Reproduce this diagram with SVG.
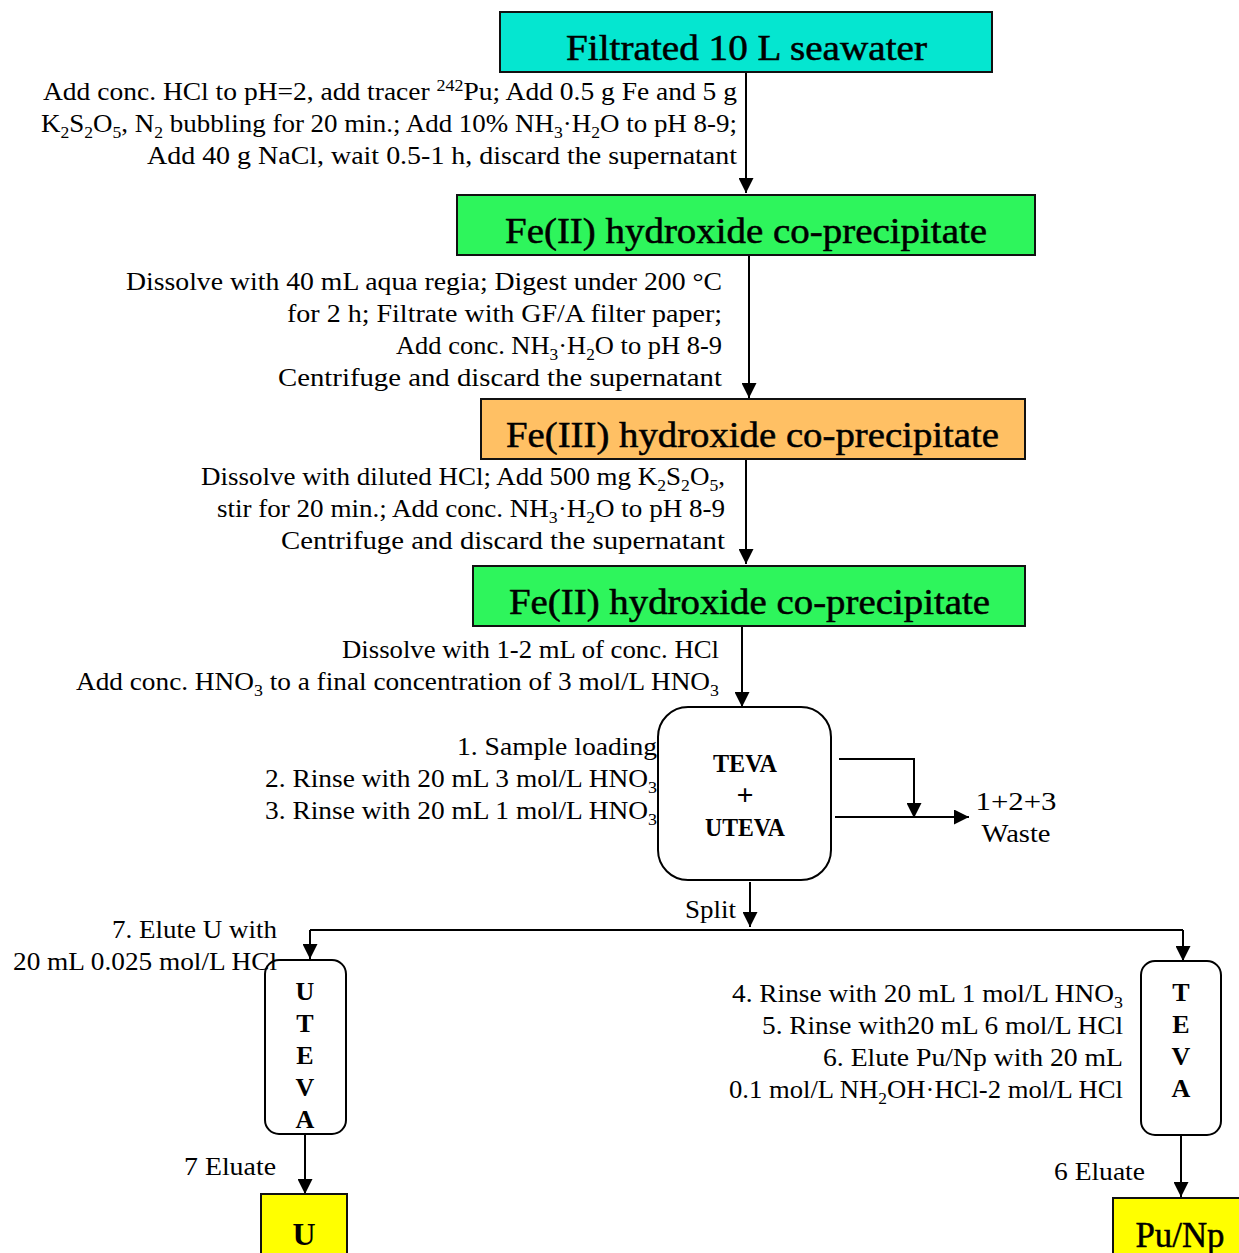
<svg xmlns="http://www.w3.org/2000/svg" width="1239" height="1253" viewBox="0 0 1239 1253">
<defs>
<style>
text{font-family:"Liberation Serif","Times New Roman",serif;font-size:26px;fill:#000}
.h{font-size:35px;stroke:#000;stroke-width:0.5}
.b{font-weight:bold;font-size:25px}
.s{font-size:17px}
.box{stroke:#111;stroke-width:2}
.col{fill:#fff;stroke:#000;stroke-width:2}
.conn path{stroke:#000;stroke-width:2;fill:none}
.arr{marker-end:url(#ah)}
</style>
<marker id="ah" markerWidth="15" markerHeight="15" refX="15" refY="7.5" orient="auto" markerUnits="userSpaceOnUse">
<path d="M0,0 L15,7.5 L0,15 z" fill="#000"/>
</marker>
</defs>
<rect width="1239" height="1253" fill="#fff"/>

<g class="conn" id="connectors">
<path class="arr" d="M746,72 V193"/>
<path class="arr" d="M749,255 V398"/>
<path class="arr" d="M746,459 V564"/>
<path class="arr" d="M742,626 V707"/>
<path class="arr" d="M839,759 H914 V818"/>
<path class="arr" d="M835,817 H969"/>
<path class="arr" d="M750,882 V927"/>
<path d="M310,930 H1183"/>
<path class="arr" d="M310,930 V959"/>
<path class="arr" d="M1183,930 V961"/>
<path class="arr" d="M305,1134 V1194"/>
<path class="arr" d="M1181,1135 V1197"/>
</g>

<g id="seawater">
<rect class="box" x="500" y="12" width="492" height="60" fill="#05E6D0"/>
<text class="h" x="746.5" y="60" text-anchor="middle" textLength="361" lengthAdjust="spacingAndGlyphs">Filtrated 10 L seawater</text>
</g>
<g id="step1-text">
<text x="737" y="100" text-anchor="end" textLength="694" lengthAdjust="spacingAndGlyphs">Add conc. HCl to pH=2, add tracer <tspan class="s" dy="-9">242</tspan><tspan dy="9">Pu; Add 0.5 g Fe and 5 g</tspan></text>
<text x="737" y="132" text-anchor="end" textLength="696" lengthAdjust="spacingAndGlyphs">K<tspan class="s" dy="6">2</tspan><tspan dy="-6">S</tspan><tspan class="s" dy="6">2</tspan><tspan dy="-6">O</tspan><tspan class="s" dy="6">5</tspan><tspan dy="-6">, N</tspan><tspan class="s" dy="6">2</tspan><tspan dy="-6"> bubbling for 20 min.; Add 10% NH</tspan><tspan class="s" dy="6">3</tspan><tspan dy="-6">·H</tspan><tspan class="s" dy="6">2</tspan><tspan dy="-6">O to pH 8-9;</tspan></text>
<text x="737" y="164" text-anchor="end" textLength="590" lengthAdjust="spacingAndGlyphs">Add 40 g NaCl, wait 0.5-1 h, discard the supernatant</text>
</g>

<g id="fe2-a">
<rect class="box" x="457" y="195" width="578" height="60" fill="#2EF55C"/>
<text class="h" x="746" y="243" text-anchor="middle" textLength="482" lengthAdjust="spacingAndGlyphs">Fe(II) hydroxide co-precipitate</text>
</g>
<g id="step2-text">
<text x="722" y="290" text-anchor="end" textLength="596" lengthAdjust="spacingAndGlyphs">Dissolve with 40 mL aqua regia; Digest under 200 °C</text>
<text x="722" y="322" text-anchor="end" textLength="435" lengthAdjust="spacingAndGlyphs">for 2 h; Filtrate with GF/A filter paper;</text>
<text x="722" y="354" text-anchor="end" textLength="326" lengthAdjust="spacingAndGlyphs">Add conc. NH<tspan class="s" dy="6">3</tspan><tspan dy="-6">·H</tspan><tspan class="s" dy="6">2</tspan><tspan dy="-6">O to pH 8-9</tspan></text>
<text x="722" y="386" text-anchor="end" textLength="444" lengthAdjust="spacingAndGlyphs">Centrifuge and discard the supernatant</text>
</g>

<g id="fe3">
<rect class="box" x="481" y="399" width="544" height="60" fill="#FFC064"/>
<text class="h" x="752.5" y="447" text-anchor="middle" textLength="493" lengthAdjust="spacingAndGlyphs">Fe(III) hydroxide co-precipitate</text>
</g>
<g id="step3-text">
<text x="725" y="485" text-anchor="end" textLength="524" lengthAdjust="spacingAndGlyphs">Dissolve with diluted HCl; Add 500 mg K<tspan class="s" dy="6">2</tspan><tspan dy="-6">S</tspan><tspan class="s" dy="6">2</tspan><tspan dy="-6">O</tspan><tspan class="s" dy="6">5</tspan><tspan dy="-6">,</tspan></text>
<text x="725" y="517" text-anchor="end" textLength="508" lengthAdjust="spacingAndGlyphs">stir for 20 min.; Add conc. NH<tspan class="s" dy="6">3</tspan><tspan dy="-6">·H</tspan><tspan class="s" dy="6">2</tspan><tspan dy="-6">O to pH 8-9</tspan></text>
<text x="725" y="549" text-anchor="end" textLength="444" lengthAdjust="spacingAndGlyphs">Centrifuge and discard the supernatant</text>
</g>

<g id="fe2-b">
<rect class="box" x="473" y="566" width="552" height="60" fill="#2EF55C"/>
<text class="h" x="749.5" y="614" text-anchor="middle" textLength="481" lengthAdjust="spacingAndGlyphs">Fe(II) hydroxide co-precipitate</text>
</g>
<g id="step4-text">
<text x="719" y="658" text-anchor="end" textLength="377" lengthAdjust="spacingAndGlyphs">Dissolve with 1-2 mL of conc. HCl</text>
<text x="719" y="690" text-anchor="end" textLength="643" lengthAdjust="spacingAndGlyphs">Add conc. HNO<tspan class="s" dy="6">3</tspan><tspan dy="-6"> to a final concentration of 3 mol/L HNO</tspan><tspan class="s" dy="6">3</tspan></text>
</g>

<g id="teva-uteva">
<rect class="col" x="658" y="707" width="173" height="173" rx="30"/>
<text class="b" x="745" y="772" text-anchor="middle" textLength="64" lengthAdjust="spacingAndGlyphs">TEVA</text>
<text class="b" x="745" y="805" text-anchor="middle" style="font-size:30px">+</text>
<text class="b" x="745" y="836" text-anchor="middle" textLength="80" lengthAdjust="spacingAndGlyphs">UTEVA</text>
</g>
<g id="step5-text">
<text x="657" y="755" text-anchor="end" textLength="200" lengthAdjust="spacingAndGlyphs">1. Sample loading</text>
<text x="657" y="787" text-anchor="end" textLength="392" lengthAdjust="spacingAndGlyphs">2. Rinse with 20 mL 3 mol/L HNO<tspan class="s" dy="6">3</tspan></text>
<text x="657" y="819" text-anchor="end" textLength="392" lengthAdjust="spacingAndGlyphs">3. Rinse with 20 mL 1 mol/L HNO<tspan class="s" dy="6">3</tspan></text>
</g>

<g id="waste">
<text x="1016" y="810" text-anchor="middle" textLength="81" lengthAdjust="spacingAndGlyphs">1+2+3</text>
<text x="1016" y="842" text-anchor="middle" textLength="69" lengthAdjust="spacingAndGlyphs">Waste</text>
</g>
<g id="split-label">
<text x="736" y="918" text-anchor="end" textLength="51" lengthAdjust="spacingAndGlyphs">Split</text>
</g>

<g id="uteva-col">
<rect class="col" x="265" y="960" width="81" height="174" rx="14"/>
<text class="b" x="305" y="1000" text-anchor="middle" style="font-size:26px">U</text>
<text class="b" x="305" y="1032" text-anchor="middle" style="font-size:26px">T</text>
<text class="b" x="305" y="1064" text-anchor="middle" style="font-size:26px">E</text>
<text class="b" x="305" y="1096" text-anchor="middle" style="font-size:26px">V</text>
<text class="b" x="305" y="1128" text-anchor="middle" style="font-size:26px">A</text>
</g>
<g id="step7-text">
<text x="277" y="938" text-anchor="end" textLength="165" lengthAdjust="spacingAndGlyphs">7. Elute U with</text>
<text x="277" y="970" text-anchor="end" textLength="264" lengthAdjust="spacingAndGlyphs">20 mL 0.025 mol/L HCl</text>
<text x="276" y="1175" text-anchor="end" textLength="92" lengthAdjust="spacingAndGlyphs">7 Eluate</text>
</g>
<g id="u-out">
<rect class="box" x="261" y="1194" width="86" height="70" fill="#FFFF00"/>
<text class="b" x="304" y="1245" text-anchor="middle" style="font-size:32px">U</text>
</g>

<g id="teva-col">
<rect class="col" x="1141" y="961" width="80" height="174" rx="14"/>
<text class="b" x="1181" y="1001" text-anchor="middle" style="font-size:26px">T</text>
<text class="b" x="1181" y="1033" text-anchor="middle" style="font-size:26px">E</text>
<text class="b" x="1181" y="1065" text-anchor="middle" style="font-size:26px">V</text>
<text class="b" x="1181" y="1097" text-anchor="middle" style="font-size:26px">A</text>
</g>
<g id="step6-text">
<text x="1123" y="1002" text-anchor="end" textLength="391" lengthAdjust="spacingAndGlyphs">4. Rinse with 20 mL 1 mol/L HNO<tspan class="s" dy="6">3</tspan></text>
<text x="1123" y="1034" text-anchor="end" textLength="361" lengthAdjust="spacingAndGlyphs">5. Rinse with20 mL 6 mol/L HCl</text>
<text x="1123" y="1066" text-anchor="end" textLength="300" lengthAdjust="spacingAndGlyphs">6. Elute Pu/Np with 20 mL</text>
<text x="1123" y="1098" text-anchor="end" textLength="394" lengthAdjust="spacingAndGlyphs">0.1 mol/L NH<tspan class="s" dy="6">2</tspan><tspan dy="-6">OH·HCl-2 mol/L HCl</tspan></text>
<text x="1145" y="1180" text-anchor="end" textLength="91" lengthAdjust="spacingAndGlyphs">6 Eluate</text>
</g>
<g id="punp-out">
<rect class="box" x="1113" y="1198" width="130" height="70" fill="#FFFF00"/>
<text class="h" x="1180" y="1247" text-anchor="middle" textLength="89" lengthAdjust="spacingAndGlyphs">Pu/Np</text>
</g>
</svg>
